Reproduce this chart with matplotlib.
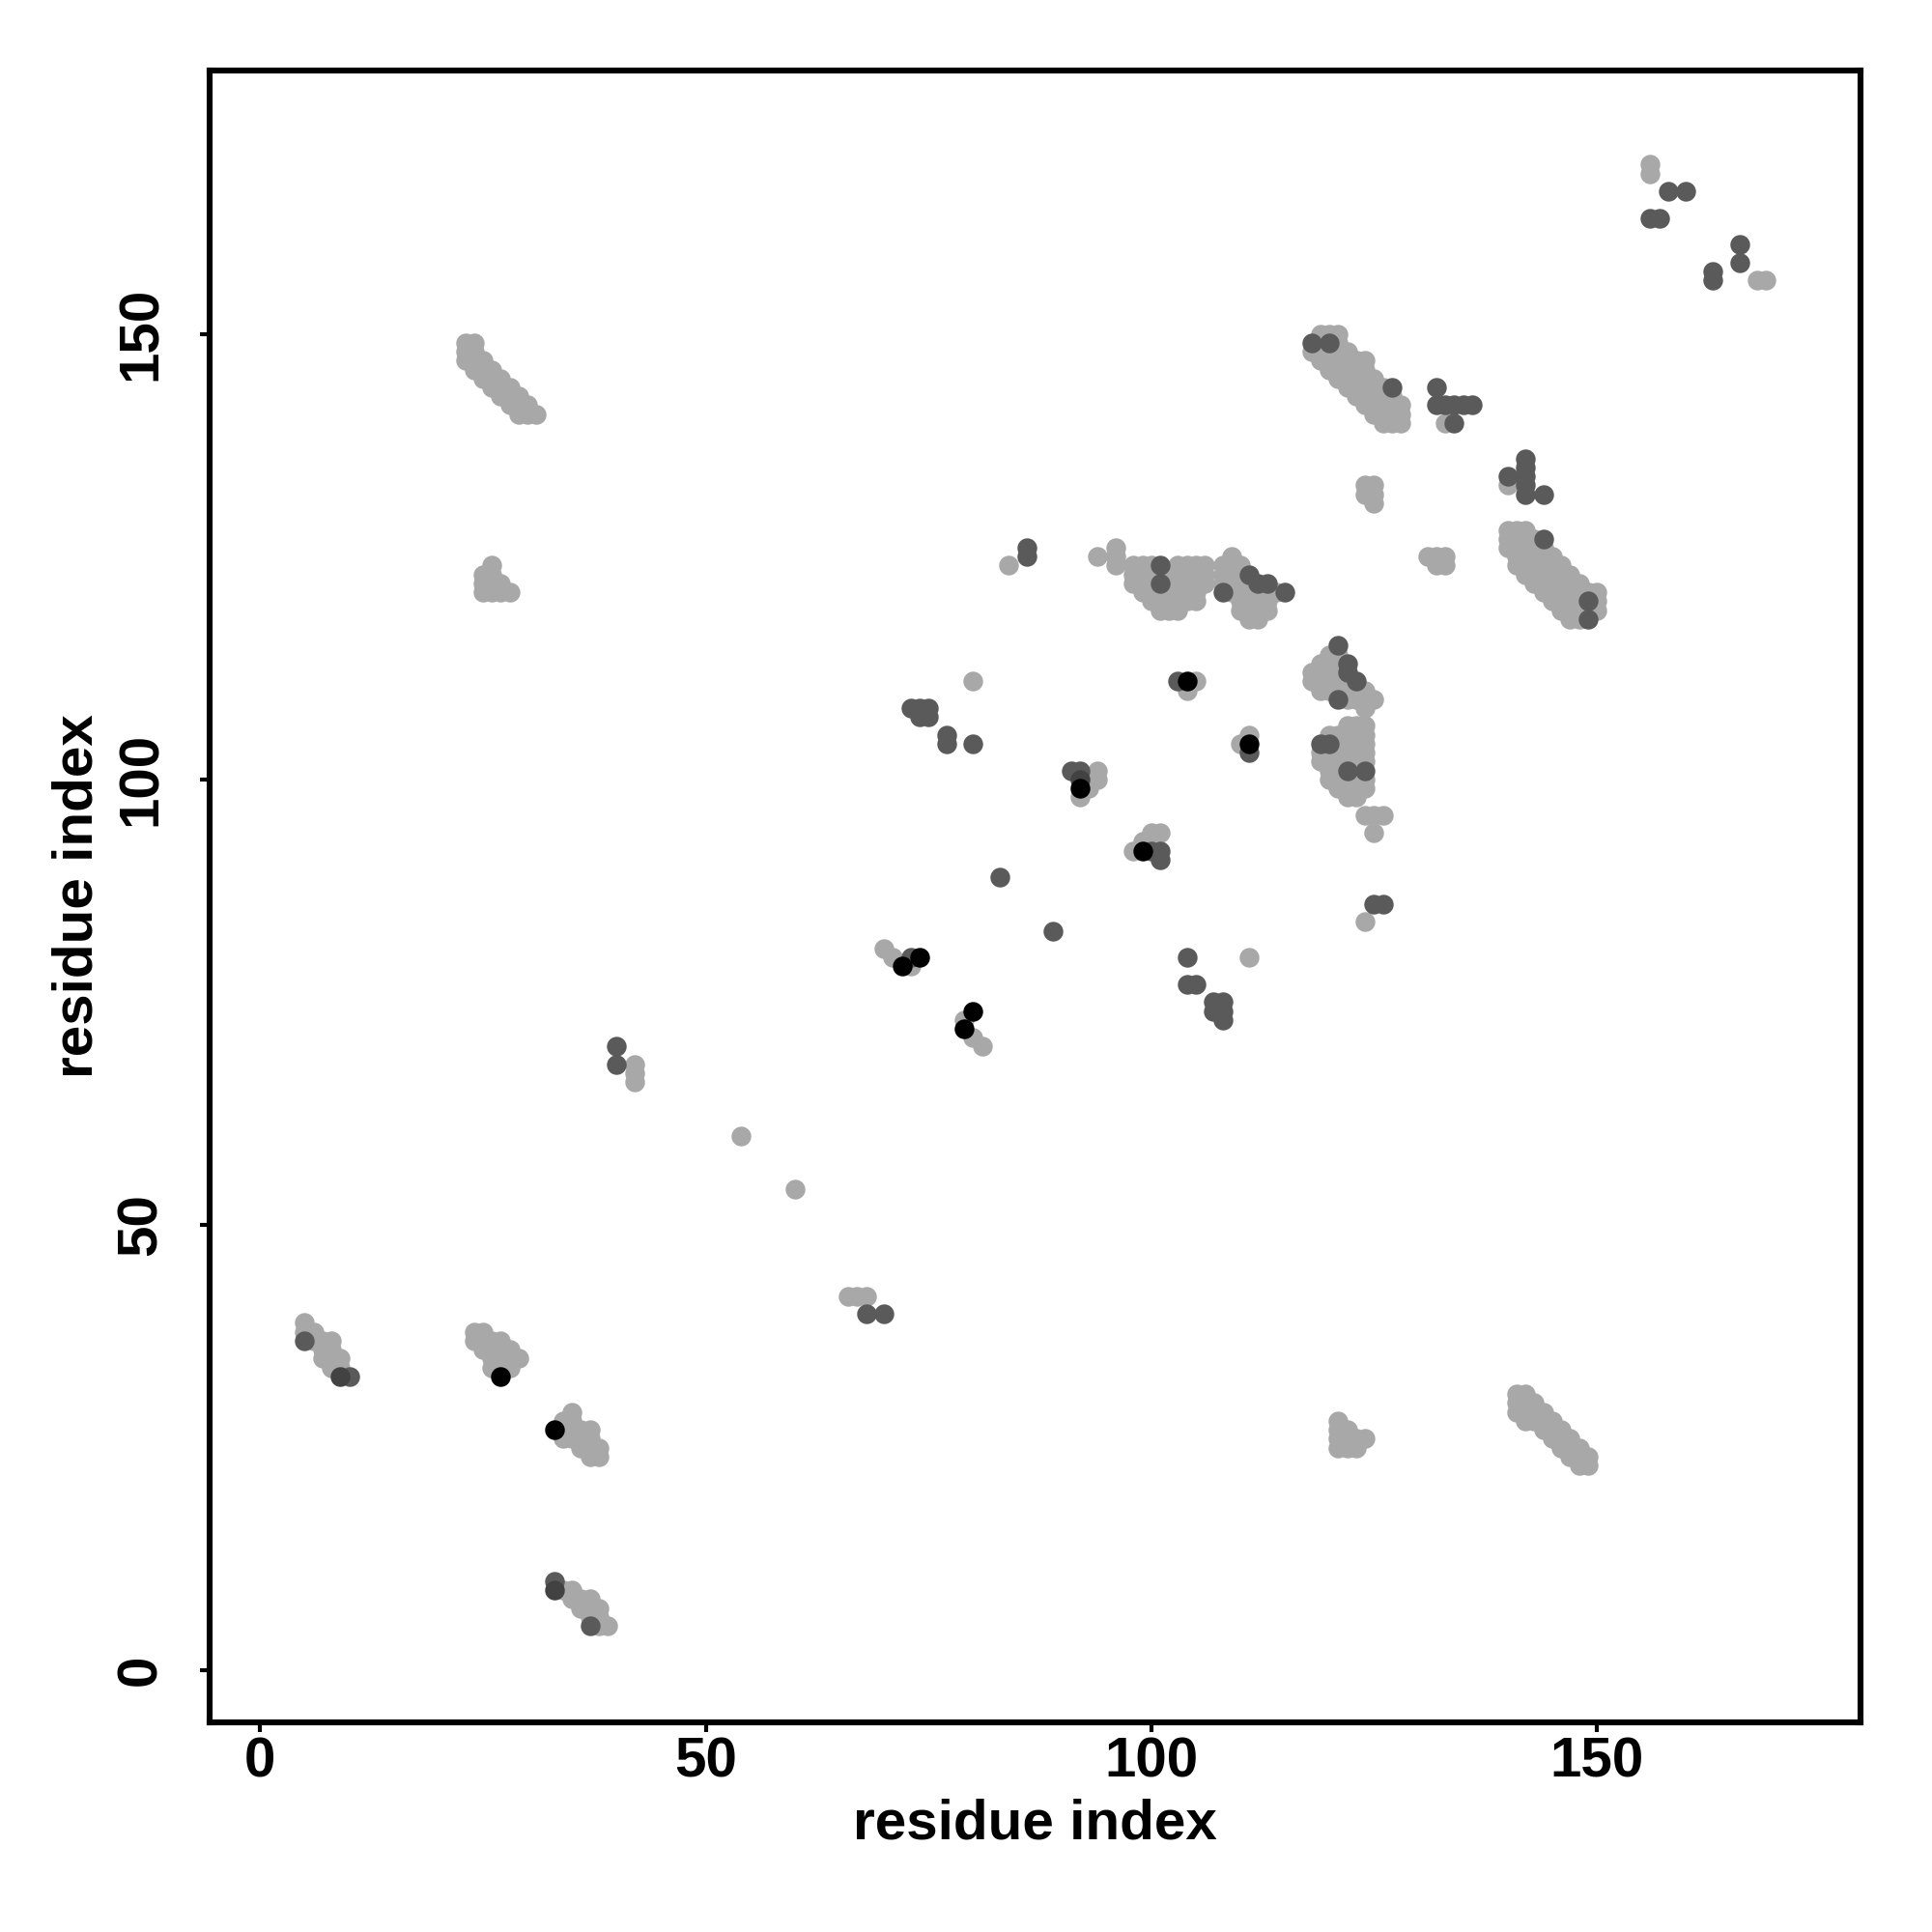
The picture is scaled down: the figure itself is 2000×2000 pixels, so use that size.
import matplotlib.pyplot as plt

plt.rcParams['font.family'] = ['Liberation Sans', 'DejaVu Sans']
plt.rcParams['font.weight'] = 'bold'

# contacts (residue i, residue j), grouped by grey level
light = [
    # band upper left
    (23,147),(23,148),(23,149),(24,146),(24,147),(24,148),(24,149),
    (25,145),(25,146),(25,147),(26,144),(26,145),(26,146),
    (27,143),(27,144),(27,145),(28,142),(28,143),(28,144),
    (29,141),(29,142),(29,143),(30,141),(30,142),(31,141),
    (25,121),(26,121),(27,121),(28,121),(25,122),(26,122),(27,122),
    (25,123),(26,123),(26,124),
    # bottom left
    (5,39),(5,38),(6,38),(6,37),(7,37),(8,37),(7,36),(8,36),(7,35),
    (8,35),(9,35),(8,34),(9,34),
    (24,38),(25,38),(24,37),(25,37),(26,37),(27,37),(25,36),(26,36),
    (27,36),(28,36),(26,35),(27,35),(28,35),(29,35),(26,34),(27,34),(28,34),
    (35,29),(34,28),(35,28),(34,27),(35,27),(36,27),(37,27),(34,26),
    (35,26),(36,26),(37,26),(36,25),(37,25),(38,25),(37,24),(38,24),
    (34,9),(35,9),(35,8),(36,8),(37,8),(36,7),(37,7),(38,7),(37,6),
    (38,6),(38,5),(39,5),
    # scattered
    (42,68),(42,67),(42,66),(54,60),(60,54),(66,42),(67,42),(68,42),
    (70,81),(71,80),(73,79),(79,73),(80,71),(81,70),(80,111),(84,124),
    # centre
    (94,125),(96,126),(96,125),(96,124),
    (98,124),(99,124),(100,124),(98,123),(99,123),(100,123),(98,122),
    (99,122),(100,122),(99,121),(100,121),(101,121),(100,120),(101,120),
    (102,120),(101,119),(102,119),(103,119),(102,123),(102,122),(102,121),
    (103,124),(104,124),(105,124),(106,124),(103,123),(104,123),(105,123),
    (106,123),(103,122),(104,122),(105,122),(106,122),(103,121),(104,121),
    (105,121),(103,120),(104,120),(105,120),
    (109,125),(108,124),(109,124),(110,124),(108,123),(109,123),(110,123),
    (108,122),(109,122),(110,122),(111,122),(109,121),(110,121),(111,121),
    (112,121),(113,121),(114,121),(110,120),(111,120),(112,120),(113,120),
    (110,119),(111,119),(112,119),(113,119),(111,118),(112,118),
    (105,111),(104,110),(111,105),(110,104),(92,98),(93,99),(94,101),
    (94,100),(98,92),(99,93),(100,94),(101,94),(111,80),
    # band x 118-128
    (118,148),(119,147),(119,148),(119,149),(119,150),(120,146),(120,147),
    (120,148),(120,150),(121,145),(121,146),(121,147),(121,148),(121,149),
    (121,150),(122,144),(122,145),(122,146),(122,147),(122,148),(123,143),
    (123,144),(123,145),(123,146),(123,147),(124,142),(124,143),(124,144),
    (124,145),(124,146),(124,147),(125,141),(125,142),(125,143),(125,144),
    (125,145),(126,140),(126,141),(126,142),(126,143),(126,144),(127,140),
    (127,141),(127,142),(127,143),(128,140),(128,141),(128,142),
    (124,133),(125,133),(124,132),(125,132),(125,131),
    (120,114),(121,114),(119,113),(120,113),(121,113),(118,112),(119,112),
    (120,112),(121,112),(118,111),(119,111),(120,111),(121,111),(119,110),
    (120,110),(121,110),(122,110),(122,109),(123,109),(123,110),(124,110),
    (124,109),(125,109),(124,108),
    (122,106),(123,106),(124,106),(120,105),(121,105),(122,105),(123,105),
    (124,105),(121,104),(122,104),(123,104),(124,104),(119,103),(120,103),
    (121,103),(122,103),(123,103),(124,103),(119,102),(120,102),(121,102),
    (122,102),(123,102),(124,102),(120,101),(121,101),(123,101),(120,100),
    (121,100),(122,100),(123,100),(124,100),(121,99),(122,99),(123,99),
    (124,99),(122,98),(123,98),
    (124,96),(125,96),(126,96),(125,94),(124,84),
    # right
    (133,140),(140,133),(131,125),(132,125),(133,125),(132,124),(133,124),
    (140,126),(140,127),(140,128),(141,124),(141,125),(141,126),(141,127),
    (141,128),(142,123),(142,124),(142,125),(142,126),(142,127),(142,128),
    (143,122),(143,123),(143,124),(143,125),(143,126),(143,127),(144,121),
    (144,122),(144,123),(144,124),(144,125),(144,126),(145,120),(145,121),
    (145,122),(145,123),(145,124),(145,125),(146,119),(146,120),(146,121),
    (146,122),(146,123),(146,124),(147,118),(147,119),(147,120),(147,121),
    (147,122),(147,123),(148,118),(148,119),(148,120),(148,121),(148,122),
    (149,119),(149,121),(150,119),(150,120),(150,121),
    (156,169),(156,168),(168,156),(169,156),
    # bottom right
    (121,28),(121,27),(121,26),(121,25),(122,27),(122,26),(122,25),
    (123,26),(123,25),(124,26),
    (141,29),(141,30),(141,31),(142,28),(142,29),(142,30),(142,31),
    (143,28),(143,29),(143,30),(144,27),(144,28),(144,29),(145,26),
    (145,27),(145,28),(146,25),(146,26),(146,27),(147,24),(147,25),
    (147,26),(148,23),(148,24),(148,25),(149,23),(149,24),
]

dark = [
    (5,37),(10,33),(33,10),(37,5),(40,70),(40,68),(68,40),(70,40),
    (73,108),(74,108),(75,108),(74,107),(75,107),(77,105),(77,104),(80,104),
    (83,89),(89,83),(73,80),(86,126),(86,125),(101,124),(101,122),
    (111,123),(112,122),(113,122),(115,121),(108,121),(103,111),(111,103),
    (91,101),(92,101),(100,92),(101,92),(101,91),(104,80),(104,77),(105,77),
    (107,75),(108,75),(107,74),(108,74),(108,73),(118,149),(120,149),
    (127,144),(121,115),(122,113),(122,112),(123,111),(121,109),(119,104),
    (120,104),(122,101),(124,101),(125,86),(126,86),(132,144),(132,142),
    (133,142),(134,142),(135,142),(136,142),(134,140),(142,136),(142,135),
    (142,134),(142,133),(142,132),(140,134),(144,132),(144,127),(149,120),
    (149,118),(158,166),(160,166),(156,163),(157,163),(166,160),(166,158),
    (163,157),(163,156),
]

darker = [(9,33),(33,9),(92,100)]

black = [(27,33),(33,27),(72,79),(74,80),(80,74),(79,72),(104,111),(111,104),
         (92,99),(99,92)]

fig = plt.figure(figsize=(10, 10), dpi=200)
ax = fig.add_axes([0.1084, 0.1087, 0.8546, 0.855])

for pts, col in ((light, '#a8a8a8'), (dark, '#5a5a5a'),
                 (darker, '#424242'), (black, '#000000')):
    xs = [p[0] for p in pts]
    ys = [p[1] for p in pts]
    ax.scatter(xs, ys, s=54, c=col, linewidths=0)

ax.set_xlim(-5.7, 179.6)
ax.set_ylim(-5.8, 179.6)
ax.set_xticks([0, 50, 100, 150])
ax.set_yticks([0, 50, 100, 150])
for sp in ax.spines.values():
    sp.set_linewidth(2.2)

ax.tick_params(axis='both', direction='out', length=3.5, width=1.5, labelsize=21)
ax.tick_params(axis='x', pad=2)
ax.tick_params(axis='y', pad=12, labelrotation=90)
for lab in ax.get_yticklabels():
    lab.set_va('center')

ax.set_xlabel('residue index', fontsize=21, fontweight='bold')
ax.set_ylabel('residue index', fontsize=21, fontweight='bold')
ax.xaxis.set_label_coords(0.5, -0.046)
ax.yaxis.set_label_coords(-0.064, 0.5)

fig.savefig('out.png', dpi=200)
